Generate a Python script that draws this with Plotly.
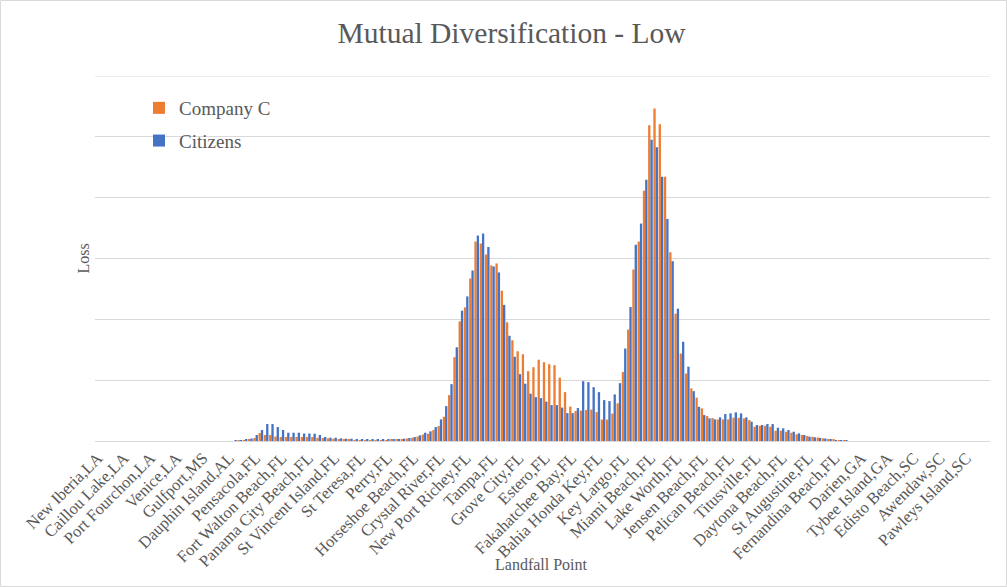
import plotly.graph_objects as go

# ---------------- data ----------------
tick_labels = [
    "New Iberia,LA", "Caillou Lake,LA", "Port Fourchon,LA", "Venice,LA", "Gulfport,MS",
    "Dauphin Island,AL", "Pensacola,FL", "Fort Walton Beach,FL", "Panama City Beach,FL",
    "St Vincent Island,FL", "St Teresa,FL", "Perry,FL", "Horseshoe Beach,FL",
    "Crystal River,FL", "New Port Richey,FL", "Tampa,FL", "Grove City,FL", "Estero,FL",
    "Fakahatchee Bay,FL", "Bahia Honda Key,FL", "Key Largo,FL", "Miami Beach,FL",
    "Lake Worth,FL", "Jensen Beach,FL", "Pelican Beach,FL", "Titusville,FL",
    "Daytona Beach,FL", "St Augustine,FL", "Fernandina Beach,FL", "Darien,GA",
    "Tybee Island,GA", "Edisto Beach,SC", "Awendaw,SC", "Pawleys Island,SC",
]
label_step = 5          # one label every 5 landfall points
n_points = 170          # landfall points on the axis

company_c = [
    0, 0, 0, 0, 0, 0, 0, 0, 0, 0, 0, 0, 0, 0, 0, 0, 0, 0, 0, 0, 0, 0, 0, 0, 0, 0,
    0, 0.5, 1, 1.5, 3, 8, 6, 6, 4.5, 4, 4, 4, 4, 4, 4, 4, 3.3, 3, 2.7, 2.3, 2, 1.7, 1.3, 1,
    1, 0.8, 0.8, 0.8, 0.8, 1, 1.2, 1.5, 1.8, 2.5, 3.3, 4.5, 6.5, 7.3, 11, 15, 24.3, 46, 84, 120,
    134, 163, 200, 198, 187, 176, 178, 150.7, 119, 101, 90, 87, 70, 74, 81.5, 79, 77, 76, 63.5, 49,
    34.5, 30, 30.5, 31, 31.5, 29, 21.5, 21.5, 27.5, 37.7, 69.3, 111.7, 172, 200, 251, 316.7, 333.5, 317.7, 265, 189.3,
    127.7, 87.7, 67.7, 52.7, 43.5, 32.7, 25, 23, 21.5, 21.7, 21.7, 23.3, 23.3, 22.7, 21, 14.3, 15.3, 15.3, 14.3, 10.3,
    10.3, 9.3, 8.3, 6.7, 6, 5, 4.3, 3.5, 2.7, 2, 1.3, 0.7, 0.3,
    0, 0, 0, 0, 0, 0, 0, 0, 0, 0, 0, 0, 0, 0, 0, 0, 0, 0, 0, 0, 0, 0, 0, 0, 0, 0, 0,
]

citizens = [
    0, 0, 0, 0, 0, 0, 0, 0, 0, 0, 0, 0, 0, 0, 0, 0, 0, 0, 0, 0, 0, 0, 0, 0, 0, 0,
    0.5, 1, 2, 2.5, 6, 11, 17, 17, 14, 11, 8.3, 8.3, 8.3, 7.5, 7.5, 7.3, 6, 4, 3.3, 3.3, 2.7, 2.3, 2.3, 1.7,
    1.7, 1.5, 1.3, 1.3, 1.3, 1.3, 1.5, 2, 2.3, 3, 4, 5.7, 8.3, 9.7, 14, 21.7, 35, 57, 94, 130.7,
    145, 171, 206, 208, 194.5, 175, 169, 136.5, 105.5, 84.5, 67, 57.5, 47.5, 44, 43, 39.5, 36, 36, 33.5, 28,
    28, 33, 60, 59, 54, 49, 41, 40, 46.7, 58, 92.7, 134.3, 196.8, 218, 262, 302, 294.5, 265, 222.7, 180.3,
    132.7, 99.5, 74.5, 50, 34.3, 26, 22.7, 21.7, 23.7, 27, 27.7, 28.7, 27.7, 23.7, 19.3, 16, 16, 17, 17, 13.3,
    12.7, 11, 9.3, 7.7, 6, 4.3, 3.7, 3, 2.5, 1.7, 1, 0.5, 0.3,
    0, 0, 0, 0, 0, 0, 0, 0, 0, 0, 0, 0, 0, 0, 0, 0, 0, 0, 0, 0, 0, 0, 0, 0, 0, 0, 0,
]

# ---------------- figure ----------------
x = list(range(n_points))
tick_positions = [i * label_step for i in range(len(tick_labels))]
grid_values = [61, 122, 183, 244, 305, 366]
y_max = 366

TEXT = "#595959"
GRID = "#d9d9d9"
FONT = "Liberation Serif, Times New Roman, serif"

L, R, T, B = 95, 17, 76, 146
PW, PH = 1007 - L - R, 587 - T - B

fig = go.Figure()
fig.add_bar(x=x, y=company_c, name="Company C", legendgroup="c",
            marker=dict(color="#ED7D31", line=dict(width=0)))
fig.add_bar(x=x, y=citizens, name="Citizens", legendgroup="z",
            marker=dict(color="#4472C4", line=dict(width=0)))

fig.update_layout(
    width=1007, height=587,
    barmode="group", bargap=0.12, bargroupgap=0,
    margin=dict(l=L, r=R, t=T, b=B, autoexpand=False),
    paper_bgcolor="white", plot_bgcolor="white",
    font=dict(family=FONT, color=TEXT),
    title=dict(text="Mutual Diversification - Low", xref="container", x=0.508,
               xanchor="center", yref="container", y=0.944, yanchor="middle",
               font=dict(size=29.5, color=TEXT, family=FONT)),
    legend=dict(x=(139 - L) / PW, y=(441 - 89) / PH, xanchor="left", yanchor="top",
                font=dict(size=19, color=TEXT, family=FONT),
                tracegroupgap=5, bgcolor="rgba(0,0,0,0)", traceorder="grouped"),
    xaxis=dict(range=[-0.5, n_points - 0.5], tickmode="array",
               tickvals=tick_positions, ticktext=tick_labels, tickangle=-45,
               tickfont=dict(size=16.5, color=TEXT, family=FONT),
               showgrid=False, zeroline=False, showline=True, linecolor=GRID,
               linewidth=1, ticks=""),
    yaxis=dict(range=[0, y_max], tickmode="array", tickvals=grid_values,
               showticklabels=False, ticks="",
               showgrid=True, gridcolor=GRID, gridwidth=1,
               zeroline=False, showline=False,
               title=dict(text="Loss", font=dict(size=16, color=TEXT, family=FONT), standoff=0)),
    annotations=[dict(text="Landfall Point", xref="paper", yref="paper",
                      x=(541 - L) / PW, y=(441 - 564) / PH, xanchor="center", yanchor="middle",
                      showarrow=False, font=dict(size=16, color=TEXT, family=FONT))],
    shapes=[
        dict(type="rect", xref="paper", yref="paper",
             x0=(0.5 - L) / PW, x1=(1006.5 - L) / PW,
             y0=(441 - 586.5) / PH, y1=(441 - 0.5) / PH,
             line=dict(color=GRID, width=1), fillcolor="rgba(0,0,0,0)", layer="below"),
        dict(type="line", xref="paper", yref="y", x0=0, x1=1, y0=y_max, y1=y_max,
             line=dict(color=GRID, width=1), layer="below"),
    ],
)

fig.write_html("out.html", config={"displayModeBar": False},
               post_script="document.body.style.margin='0';document.body.style.overflow='hidden';")
